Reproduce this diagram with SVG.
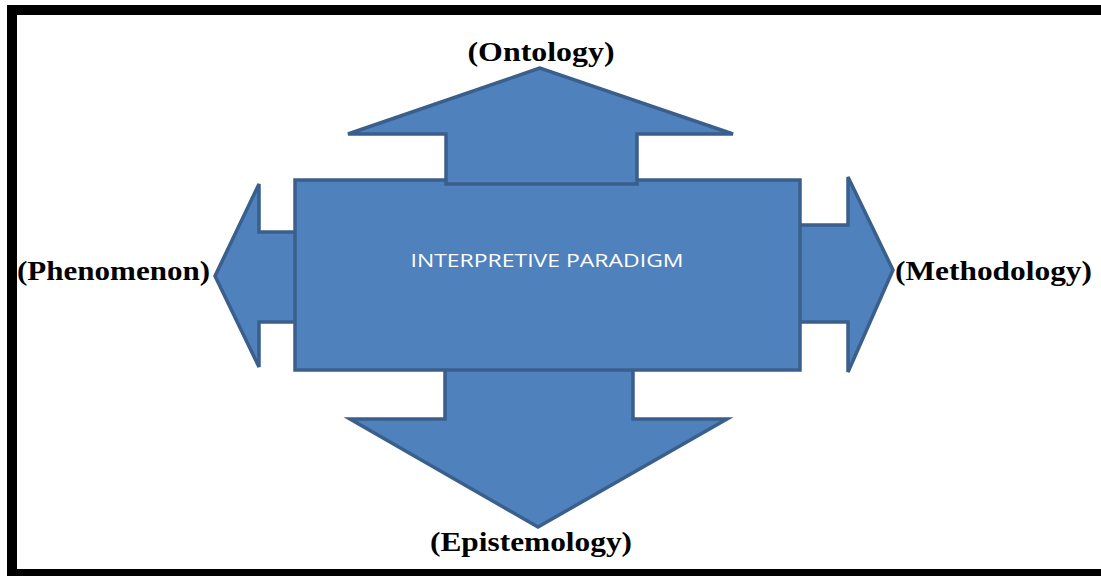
<svg xmlns="http://www.w3.org/2000/svg" width="1101" height="576" viewBox="0 0 1101 576">
<style>
.shape{fill:#4F81BD;stroke:#3A5F8C;stroke-width:3.5;stroke-linejoin:miter}
.lbl{font-family:"Liberation Serif","Times New Roman",serif;font-weight:bold;font-size:27px;fill:#000}
.ctr{font-family:"Open Sans","Noto Sans",sans-serif;font-size:19px;fill:#fff}
</style>
<rect x="0" y="0" width="1101" height="576" fill="#fff"/>
<rect x="12" y="10" width="1100" height="564" fill="none" stroke="#000" stroke-width="10"/>
<g id="connectors">
<g id="arrow-left"><polygon class="shape" points="215,276 259,184 259,232 300,232 300,322 259,322 259,367"/></g>
<g id="arrow-right"><polygon class="shape" points="893,270 848,177 848,225 795,225 795,322 848,322 848,372"/></g>
<g id="arrow-down"><polygon class="shape" points="445,365 445,419 350,419 538,527 727,419 633,419 633,365"/></g>
</g>
<g id="node-center">
<rect class="shape" x="295" y="180" width="505" height="190"/>
<text class="ctr" x="547" y="267" text-anchor="middle" textLength="273" lengthAdjust="spacingAndGlyphs">INTERPRETIVE PARADIGM</text>
</g>
<g id="arrow-up"><polygon class="shape" points="540,68 348,134 446,134 446,184 637,184 637,134 733,134"/></g>
<g id="label-ontology"><text class="lbl" x="541" y="61" text-anchor="middle" textLength="147" lengthAdjust="spacingAndGlyphs">(Ontology)</text></g>
<g id="label-phenomenon"><text class="lbl" x="17" y="280" textLength="193" lengthAdjust="spacingAndGlyphs">(Phenomenon)</text></g>
<g id="label-methodology"><text class="lbl" x="895" y="280" textLength="197" lengthAdjust="spacingAndGlyphs">(Methodology)</text></g>
<g id="label-epistemology"><text class="lbl" x="430" y="551" textLength="202" lengthAdjust="spacingAndGlyphs">(Epistemology)</text></g>
</svg>
